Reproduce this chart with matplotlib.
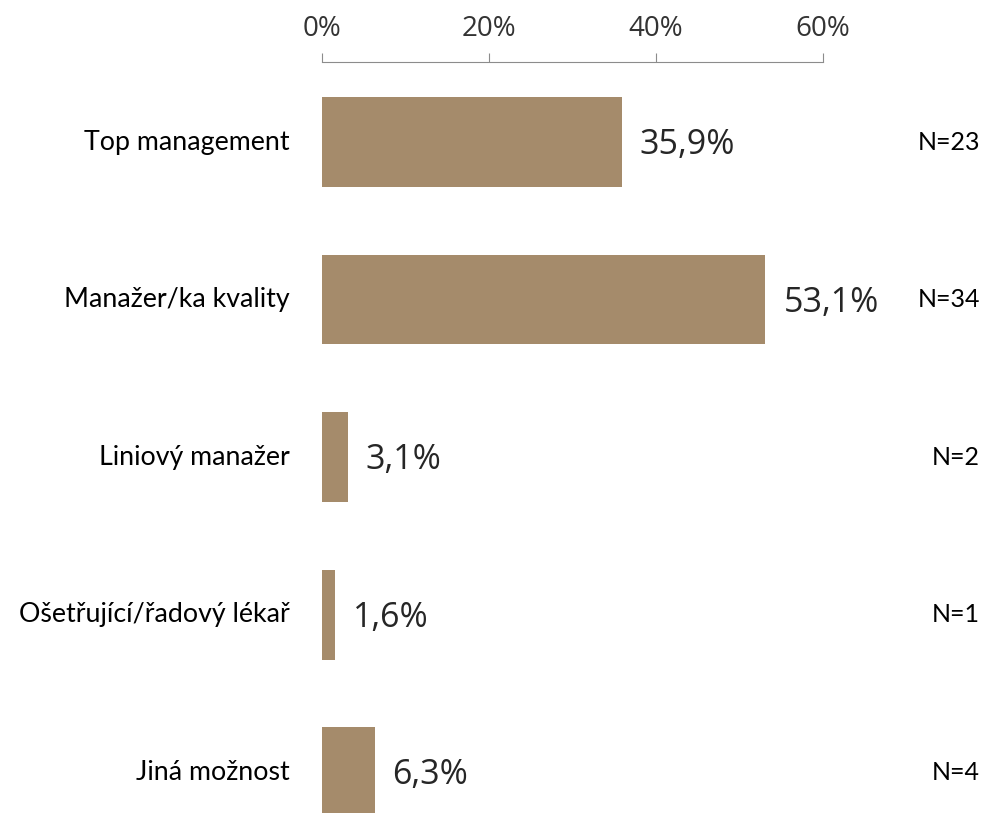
import matplotlib.pyplot as plt
import numpy as np

categories = ['Top management', 'Manažer/ka kvality', 'Liniový manažer',
              'Ošetřující/řadový lékař', 'Jiná možnost']
values = [35.9, 53.1, 3.1, 1.6, 6.3]
counts = [23, 34, 2, 1, 4]
ticks = [0, 20, 40, 60]

bar_color = '#a58b6b'

fig = plt.figure(figsize=(9.96, 8.13), dpi=100)
ax = fig.add_axes([322 / 996, 0, (823 - 322) / 996, 1 - 62 / 813])

y = np.arange(len(categories))
ax.barh(y, values, height=0.571, color=bar_color)

ax.set_xlim(0, 60)
ax.set_ylim(4.26, -0.508)

ax.xaxis.tick_top()
ax.set_xticks(ticks)
ax.set_xticklabels([f'{t}%' for t in ticks], fontsize=20, color='#333333',
                   family='Open Sans')
ax.tick_params(axis='x', direction='out', length=6.5, color='#8c8c8c', pad=7)
ax.set_yticks([])

for s in ['bottom', 'left', 'right']:
    ax.spines[s].set_visible(False)
ax.spines['top'].set_color('#8c8c8c')

# x position of the N= column, in axes units
n_x = 1.0 + (980 - 823) / (823 - 322)

for i, (cat, v, n) in enumerate(zip(categories, values, counts)):
    ax.annotate(cat, xy=(0, i), xytext=(-32, 0), textcoords='offset pixels',
                ha='right', va='center', fontsize=19.3, family='Lato', color='black')
    ax.annotate(f'{v:.1f}%'.replace('.', ','), xy=(v, i), xytext=(18, -3),
                textcoords='offset pixels', ha='left', va='center',
                fontsize=24.5, family='Open Sans', color='#262626')
    ax.text(n_x, i, f'N={n}', transform=ax.get_yaxis_transform(),
            ha='right', va='center', fontsize=18, family='Lato',
            color='black', clip_on=False)

fig.savefig('out.png', dpi=100)
